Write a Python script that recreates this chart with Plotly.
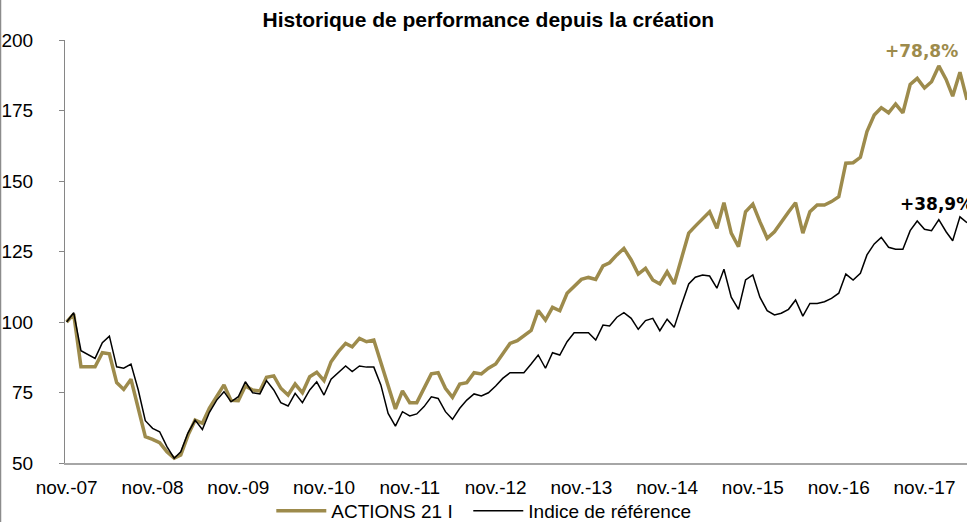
import pandas as pd
import plotly.graph_objects as go

# ---- data ----
months = pd.date_range("2007-11-01", periods=127, freq="MS")

actions_21 = [
    100.0, 102.8, 84.1, 84.1, 84.1, 89.1, 88.7, 78.5, 76.1, 79.7,
    69.0, 59.3, 58.4, 57.2, 54.0, 51.7, 52.8, 59.9, 65.2, 64.1,
    69.5, 73.5, 77.7, 72.2, 72.1, 77.3, 75.9, 75.5, 80.4, 80.9,
    76.5, 74.1, 78.0, 74.9, 80.6, 82.2, 79.2, 85.9, 89.5, 92.4,
    91.2, 94.2, 93.0, 93.6, 85.4, 77.0, 69.2, 75.6, 71.4, 71.4,
    76.5, 81.6, 82.0, 76.5, 73.3, 78.0, 78.5, 82.0, 81.6, 83.6,
    85.1, 88.9, 92.4, 93.4, 95.0, 97.0, 104.1, 100.7, 105.2, 104.0,
    110.2, 112.8, 115.1, 115.8, 115.1, 119.9, 121.0, 123.8, 126.1, 122.0,
    117.0, 119.0, 114.9, 113.5, 117.8, 113.5, 122.0, 131.5, 134.0, 136.5,
    139.1, 133.2, 142.3, 131.5, 126.7, 139.1, 141.8, 135.6, 129.7, 132.0,
    135.6, 139.0, 142.3, 131.5, 139.1, 141.5, 141.5, 142.7, 144.4, 156.3,
    156.5, 158.4, 167.5, 173.4, 176.0, 174.2, 177.3, 174.2, 184.2, 186.4,
    183.0, 185.2, 190.8, 186.0, 180.1, 188.6, 178.8,
]

indice_ref = [
    100.0, 103.3, 89.8, 88.3, 87.1, 92.7, 95.0, 84.1, 83.6, 85.1,
    75.9, 65.0, 62.3, 61.1, 55.8, 51.7, 54.0, 60.7, 65.2, 61.9,
    68.0, 72.3, 75.3, 71.7, 73.5, 78.8, 74.9, 74.5, 79.2, 75.9,
    71.4, 70.2, 74.7, 71.4, 75.9, 78.8, 74.1, 79.7, 82.0, 84.4,
    82.4, 84.4, 84.0, 84.0, 77.7, 67.6, 63.1, 68.2, 66.7, 67.4,
    70.0, 73.5, 72.9, 68.2, 65.5, 69.4, 72.3, 74.5, 73.8, 74.9,
    77.3, 80.0, 82.0, 82.0, 82.0, 85.1, 88.3, 83.6, 89.1, 88.3,
    93.0, 96.2, 96.2, 96.2, 93.6, 98.9, 98.6, 101.7, 103.3, 101.3,
    97.4, 100.5, 101.3, 96.9, 101.0, 98.1, 106.0, 113.5, 115.9, 116.7,
    116.3, 112.0, 118.7, 108.8, 104.5, 114.9, 116.7, 108.8, 104.0, 102.5,
    103.1, 104.5, 107.8, 102.1, 106.6, 106.6, 107.2, 108.4, 110.2, 117.0,
    114.9, 117.3, 123.8, 127.7, 130.0, 126.5, 125.8, 125.8, 132.4, 135.8,
    132.9, 132.4, 136.3, 132.0, 128.8, 137.3, 135.2,
]

series_names = ["ACTIONS 21 I", "Indice de référence"]

tick_labels = ["nov.-07", "nov.-08", "nov.-09", "nov.-10", "nov.-11", "nov.-12",
               "nov.-13", "nov.-14", "nov.-15", "nov.-16", "nov.-17"]
tick_dates = list(months[::12])

y_ticks = [50, 75, 100, 125, 150, 175, 200]

perf_labels = ["+78,8%", "+38,9%"]

GOLD = "#9d8b4c"
FONT = "Liberation Sans, Arial, sans-serif"
LABEL_FONT = "DejaVu Sans, Verdana, sans-serif"
GAP = "\u00a0\u00a0"

fig = go.Figure()
fig.add_trace(go.Scatter(x=months, y=actions_21, mode="lines", name=series_names[0] + GAP,
                         line=dict(color=GOLD, width=3.5)))
fig.add_trace(go.Scatter(x=months, y=indice_ref, mode="lines", name=series_names[1],
                         line=dict(color="#000000", width=1.5)))

fig.update_layout(
    width=967, height=522,
    margin=dict(l=65, r=0, t=40, b=59, autoexpand=False),
    paper_bgcolor="white", plot_bgcolor="white",
    font=dict(family=FONT, size=19, color="#000000"),
    title=dict(text="<b>Historique de performance depuis la création</b>",
               x=0.505, xanchor="center", y=0.963, yanchor="middle",
               font=dict(family=FONT, size=21, color="#000000")),
    showlegend=True,
    legend=dict(orientation="h", x=0.4643, xanchor="center", y=-0.113, yanchor="middle",
                font=dict(family=FONT, size=19), bgcolor="rgba(0,0,0,0)",
                itemwidth=50, tracegroupgap=0),
    xaxis=dict(type="date", range=["2007-10-25", "2018-05-01"],
               tickmode="array", tickvals=tick_dates, ticktext=tick_labels,
               showgrid=False, zeroline=False, showline=True,
               linecolor="#a6a6a6", linewidth=2, ticks="",
               tickfont=dict(family=FONT, size=19), ticklabelstandoff=6),
    yaxis=dict(range=[50, 200], tickmode="array", tickvals=y_ticks,
               showgrid=False, zeroline=False, showline=True,
               linecolor="#868686", linewidth=1, ticks="outside", ticklen=5,
               tickcolor="#868686", tickfont=dict(family=FONT, size=19),
               ticklabelstandoff=22),
    annotations=[
        dict(text="<b>" + perf_labels[0] + "</b>", xref="paper", yref="paper",
             x=0.9497, y=0.974, xanchor="center", yanchor="middle", showarrow=False,
             font=dict(family=LABEL_FONT, size=17, color=GOLD)),
        dict(text="<b>" + perf_labels[1] + "</b>", xref="paper", yref="paper",
             x=0.923, y=0.612, xanchor="left", yanchor="middle", showarrow=False,
             font=dict(family=LABEL_FONT, size=17, color="#000000")),
    ],
    shapes=[
        dict(type="line", xref="paper", yref="paper", x0=-0.0715, x1=-0.0715,
             y0=-0.14, y1=1.095, line=dict(color="#8c8c8c", width=1.5)),
    ],
)

fig.write_html("out.html", config={"displayModeBar": False},
               post_script="document.body.style.margin='0';")
